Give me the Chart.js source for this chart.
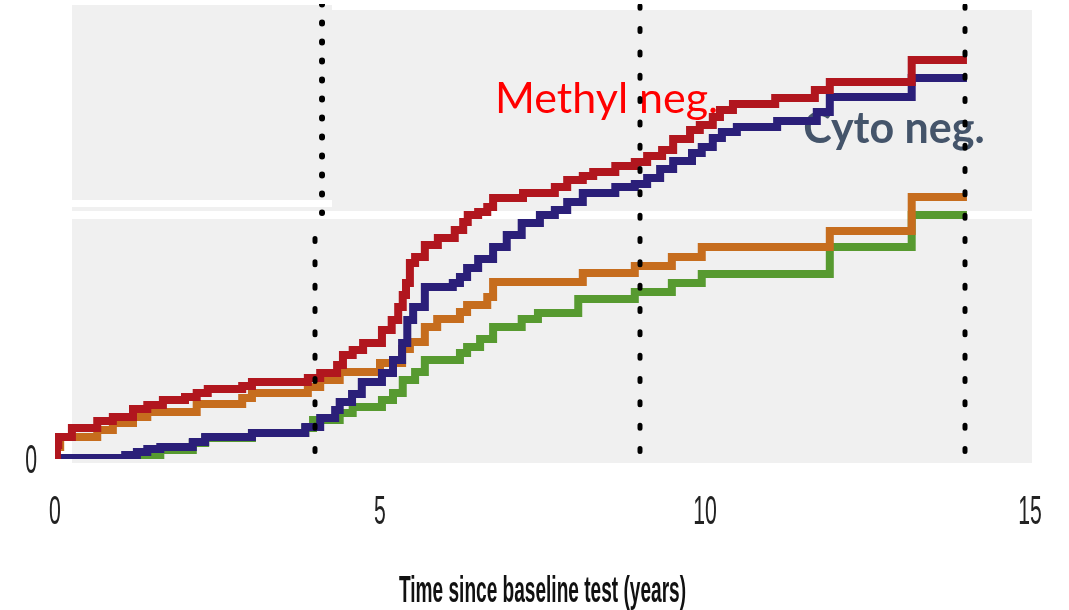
<!DOCTYPE html>
<html>
<head>
<meta charset="utf-8">
<script src="https://cdn.jsdelivr.net/npm/chart.js@4.4.0/dist/chart.umd.min.js"></script>
<style>
  html, body { margin: 0; padding: 0; background: #fff; }
  #wrap { width: 1069px; height: 610px; }
</style>
</head>
<body>
<div id="wrap"><canvas id="riskChart"></canvas></div>
<script>
const methylYears = [0, 0.03, 0.05, 0.26, 0.65, 0.89, 1.2, 1.42, 1.66, 2.0, 2.18, 2.35, 2.88, 3.03, 3.89, 4.08, 4.34, 4.43, 4.58, 4.74, 5.03, 5.18, 5.28, 5.35, 5.40, 5.46, 5.54, 5.69, 5.89, 6.15, 6.28, 6.35, 6.51, 6.65, 6.74, 7.2, 7.69, 7.88, 8.12, 8.28, 8.62, 8.92, 9.11, 9.34, 9.51, 9.77, 9.92, 10.12, 10.23, 10.43, 11.08, 11.69, 11.92, 13.18, 14.03];
const methylRisk = [0, 1.4, 2.2, 3.1, 3.8, 4.2, 5.0, 5.4, 5.9, 6.2, 6.6, 7.0, 7.3, 7.7, 8.1, 8.6, 9.4, 10.4, 10.9, 11.6, 12.9, 13.9, 15.2, 16.4, 17.6, 19.6, 20.2, 21.4, 22.1, 22.9, 23.7, 24.4, 24.7, 25.2, 26.1, 26.6, 27.2, 27.9, 28.3, 28.7, 29.3, 29.7, 30.3, 30.9, 32.0, 32.9, 33.4, 34.2, 34.9, 35.5, 36.1, 36.9, 37.7, 39.9, 39.9];

const cytoYears = [0, 1.08, 1.26, 1.42, 1.62, 2.12, 2.31, 3.03, 3.85, 4.08, 4.31, 4.38, 4.57, 4.72, 5.03, 5.2, 5.34, 5.42, 5.51, 5.69, 6.12, 6.23, 6.34, 6.51, 6.74, 6.95, 7.18, 7.46, 7.69, 7.88, 8.12, 8.62, 8.92, 9.11, 9.31, 9.51, 9.8, 9.95, 10.12, 10.26, 10.49, 11.11, 11.72, 11.92, 13.18, 14.03];
const cytoRisk = [0.1, 0.4, 0.7, 1.0, 1.2, 1.7, 2.2, 2.6, 3.2, 4.1, 4.9, 5.7, 6.5, 7.7, 8.6, 9.9, 11.6, 13.9, 15.2, 17.2, 17.6, 18.2, 19.1, 20.0, 21.2, 22.4, 23.6, 24.4, 24.9, 25.7, 26.6, 27.2, 27.5, 28.1, 29.0, 29.8, 30.6, 31.2, 32.1, 32.7, 33.2, 33.8, 34.7, 36.2, 38.1, 38.1];

const orangeYears = [0, 0.02, 0.08, 0.65, 0.89, 1.2, 1.42, 2.18, 2.88, 3.03, 3.89, 4.08, 4.38, 5.0, 5.34, 5.46, 5.69, 5.88, 6.23, 6.34, 6.65, 6.74, 8.12, 8.92, 9.49, 9.95, 11.92, 13.18, 14.03];
const orangeRisk = [0, 1.2, 2.2, 2.9, 3.6, 4.2, 4.7, 5.5, 6.1, 6.6, 7.2, 7.9, 8.7, 9.6, 11.0, 11.7, 13.2, 14.0, 14.7, 15.4, 16.2, 17.7, 18.6, 19.3, 20.2, 21.2, 22.8, 26.2, 26.2];

const greenYears = [0, 1.26, 1.62, 2.12, 2.31, 3.03, 3.85, 3.97, 4.38, 4.58, 5.03, 5.2, 5.35, 5.54, 5.69, 6.23, 6.34, 6.54, 6.74, 7.18, 7.43, 8.05, 8.92, 9.49, 9.95, 11.92, 13.18, 14.03];
const greenRisk = [0, 0.4, 0.9, 1.6, 2.1, 2.6, 3.1, 3.9, 4.6, 5.2, 5.9, 6.6, 7.9, 8.7, 9.9, 10.6, 11.2, 12.0, 13.2, 14.0, 14.6, 16.0, 16.7, 17.6, 18.5, 21.2, 24.4, 24.4];

const xTicks = [0, 5, 10, 15];
const yTicks = [0];
const testYears = [4, 9, 14];   // dotted lines at the repeat tests
const curveNames = ['Methyl neg.', 'Cyto neg.'];

function steps(years, risk) {
    return years.map((t, i) => ({ x: t, y: risk[i] }));
}

// axis text in the original is squashed sideways, so squeeze it the same way
const squeeze = 0.53;
class NarrowLinearScale extends Chart.LinearScale {
    static id = 'narrowLinear';
    withNarrowText(draw) {
        const ctx = this.ctx;
        ctx.fillText = function (text, x, y) {
            CanvasRenderingContext2D.prototype.fillText.call(this, text, x, y, this.measureText(text).width * squeeze);
        };
        draw();
        delete ctx.fillText;
    }
    drawLabels(area) { this.withNarrowText(() => super.drawLabels(area)); }
    drawTitle() { this.withNarrowText(() => super.drawTitle()); }
}
Chart.register(NarrowLinearScale);

// grey panel; the original is two screenshots glued together, hence the seam
const panelBackground = {
    id: 'panelBackground',
    beforeDraw(chart) {
        const { ctx, chartArea: a } = chart;
        ctx.save();
        ctx.fillStyle = '#f0f0f0';
        ctx.fillRect(a.left + 17, a.top + 1, 260, 195);
        ctx.fillRect(a.left + 277, a.top + 6, 700, 201);
        ctx.fillRect(a.left + 17, a.top + 203, 260, 4);
        ctx.fillRect(a.left + 17, a.top + 215, 960, 244);
        ctx.restore();
    }
};

const curveLabels = {
    id: 'curveLabels',
    beforeDatasetsDraw(chart) {
        const { ctx, scales: { x, y } } = chart;
        ctx.save();
        ctx.textBaseline = 'alphabetic';
        ctx.font = '43px Lato, "Noto Sans", sans-serif';
        ctx.fillStyle = '#ff0000';
        ctx.fillText(curveNames[0], x.getPixelForValue(6.77), y.getPixelForValue(34.6));
        ctx.font = 'bold 43px Lato, "Noto Sans", sans-serif';
        ctx.fillStyle = '#44546a';
        ctx.fillText(curveNames[1], x.getPixelForValue(11.51), y.getPixelForValue(31.6));
        ctx.restore();
    }
};

function curve(label, years, risk, color, order) {
    return {
        label: label,
        data: steps(years, risk),
        borderColor: color,
        borderWidth: 8,
        stepped: 'before',
        pointRadius: 0,
        fill: false,
        order: order
    };
}

function dots(t, from, to, width, dash, offset) {
    return {
        label: 'test',
        data: [{ x: t, y: from }, { x: t, y: to }],
        borderColor: '#000',
        borderWidth: width,
        borderDash: dash,
        borderDashOffset: offset,
        borderCapStyle: 'round',
        pointRadius: 0,
        fill: false,
        order: 0
    };
}

function noLabelPadding(s) {
    s.paddingTop = 0;
    s.paddingBottom = 0;
    s.paddingLeft = 0;
    s.paddingRight = 0;
}

const axisFont = '"Liberation Sans", Arial, sans-serif';

const ctx = document.getElementById('riskChart').getContext('2d');
new Chart(ctx, {
    type: 'line',
    data: {
        datasets: [
            curve('Methyl neg.', methylYears, methylRisk, '#b1161e', 1),
            curve('Cyto neg.', cytoYears, cytoRisk, '#2b1f79', 2),
            curve('orange', orangeYears, orangeRisk, '#c66d1e', 3),
            curve('green', greenYears, greenRisk, '#579a30', 4),
            dots(testYears[0], 0, 23.8, 5, [3, 20.33], 15.83),
            dots(testYears[0] + 0.108, 24.6, 45.5, 6, [1, 18], 0.5),
            dots(testYears[1], 0, 45.3, 5, [3, 20.33], 15.83),
            dots(testYears[2], 0, 45.3, 5, [3, 20.33], 15.83)
        ]
    },
    options: {
        responsive: true,
        maintainAspectRatio: false,
        animation: false,
        layout: { padding: { top: 4, right: 39, bottom: 0, left: 0 } },
        plugins: {
            legend: { display: false },
            tooltip: { enabled: false }
        },
        scales: {
            x: {
                type: 'narrowLinear',
                min: 0,
                max: 15,
                grid: { display: false, drawTicks: false },
                border: { display: false },
                afterBuildTicks: s => { s.ticks = xTicks.map(v => ({ value: v })); },
                afterFit: s => { s.height = 151; noLabelPadding(s); },
                ticks: { color: '#222', padding: 30, font: { family: axisFont, size: 40 } },
                title: {
                    display: true,
                    text: 'Time since baseline test (years)',
                    color: '#111',
                    padding: { top: 0, bottom: 0 },
                    font: { family: axisFont, size: 36, weight: 'bold', lineHeight: 1 }
                }
            },
            y: {
                type: 'narrowLinear',
                min: 0,
                max: 45.5,
                grid: { display: false, drawTicks: false },
                border: { display: false },
                afterBuildTicks: s => { s.ticks = yTicks.map(v => ({ value: v })); },
                afterFit: s => { s.width = 55; noLabelPadding(s); },
                ticks: { color: '#222', padding: 18, labelOffset: 3, font: { family: axisFont, size: 40 } }
            }
        }
    },
    plugins: [panelBackground, curveLabels]
});
</script>
</body>
</html>
